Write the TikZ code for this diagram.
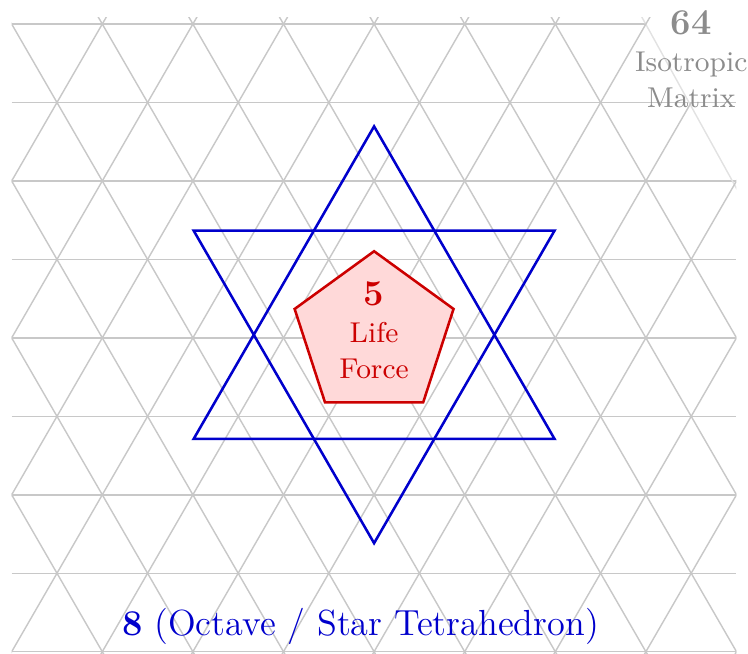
\documentclass[tikz,border=0pt]{standalone}
\definecolor{gridgray}{RGB}{200,200,200}
\definecolor{gridlight}{RGB}{226,226,226}
\definecolor{starblue}{RGB}{0,0,204}
\definecolor{lifered}{RGB}{204,0,0}
\definecolor{lifefill}{RGB}{255,217,217}
\definecolor{labelgray}{RGB}{140,140,140}
\tikzset{
  gridline/.style={draw=gridgray, line width=0.45pt},
  gridfaint/.style={draw=gridlight, line width=0.45pt},
  starline/.style={draw=starblue, line width=0.8pt},
  lifeshape/.style={draw=lifered, fill=lifefill, line width=0.8pt},
  labeltext/.style={inner sep=0pt, align=center, font=\fontsize{9}{11.5}\selectfont},
}
\begin{document}
\begin{tikzpicture}
\useasboundingbox (-0.129,-6.9425) rectangle (8.127,0.265);
\def\hh{0.8660254}
% triangular grid
\begin{scope}
  \clip (0,-6.95) rectangle (8,0.077);
  \draw[gridline] (0,0) -- (7,0);
  \foreach \k in {1,...,8} \draw[gridline] (0,-\k*\hh) -- (8,-\k*\hh);
  \foreach \c in {-3,...,6} \draw[gridline] (\c-0.05,0.0866) -- (\c+4.05,-7.0146);
  \draw[gridfaint] (6.95,0.0866) -- (8.05,-1.9053);
  \foreach \c in {1,...,7,9,10,11,12} \draw[gridline] (\c+0.05,0.0866) -- (\c-4.05,-7.0146);
  \draw[gridline] (7.5,-\hh) -- (3.95,-7.0146);
\end{scope}
% star
\begin{scope}[shift={(4,-3.43)}]
  \coordinate (c) at (0,0);
  \coordinate (u1) at (90:2.3);
  \coordinate (u2) at (210:2.3);
  \coordinate (u3) at (330:2.3);
  \coordinate (d1) at (270:2.3);
  \coordinate (d2) at (30:2.3);
  \coordinate (d3) at (150:2.3);
  \draw[starline] (u1) -- (u2) -- (u3) -- cycle;
  \draw[starline] (d1) -- (d2) -- (d3) -- cycle;
  \coordinate (p1) at (90:0.922);
  \coordinate (p2) at (162:0.922);
  \coordinate (p3) at (234:0.922);
  \coordinate (p4) at (306:0.922);
  \coordinate (p5) at (18:0.922);
  \draw[lifeshape] (p1) -- (p2) -- (p3) -- (p4) -- (p5) -- cycle;
\end{scope}
\node[labeltext, anchor=north, text=lifered] (life) at (4,-2.837)
  {{\fontsize{11.4}{11.5}\selectfont\bfseries 5}\\Life\\Force};
\node[labeltext, anchor=north, text=labelgray] (matrix) at (7.5,0.1545)
  {{\fontsize{11.4}{11.5}\selectfont\bfseries 64}\\Isotropic\\Matrix};
\node[anchor=base, inner sep=0pt, text=starblue, font=\fontsize{11.4}{14}\selectfont] (octave) at (3.85,-6.744)
  {\textbf{8} (Octave / Star Tetrahedron)};
\end{tikzpicture}
\end{document}
